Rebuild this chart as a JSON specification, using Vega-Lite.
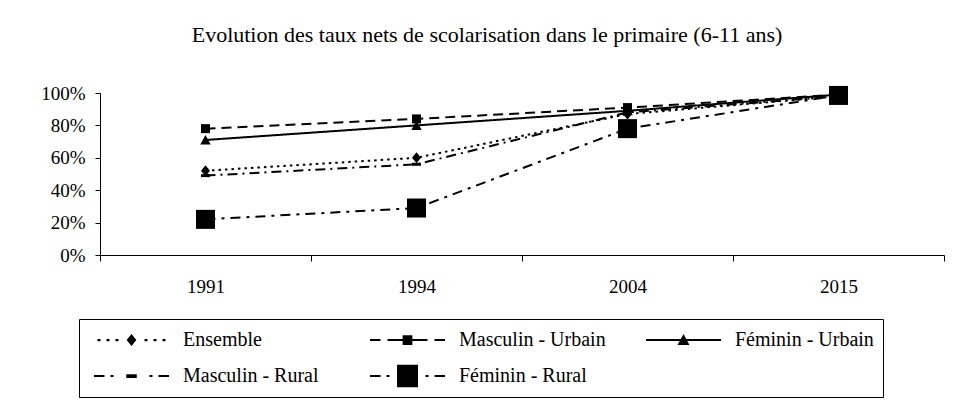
{
  "$schema": "https://vega.github.io/schema/vega-lite/v6.json",
  "width": 844,
  "height": 162,
  "autosize": {"type": "none"},
  "padding": {"left": 100, "top": 93, "right": 12, "bottom": 146},
  "background": "white",
  "config": {
    "font": "Liberation Serif",
    "view": {"stroke": null},
    "axis": {
      "labelFont": "Liberation Serif",
      "labelFontSize": 19,
      "labelColor": "black",
      "domainColor": "black",
      "tickColor": "black",
      "domainWidth": 1,
      "tickWidth": 1,
      "grid": false,
      "title": null
    }
  },
  "title": {
    "text": "Evolution des taux nets de scolarisation dans le primaire (6-11 ans)",
    "font": "Liberation Serif",
    "fontSize": 22,
    "fontWeight": "normal",
    "color": "black",
    "anchor": "middle",
    "dx": -35,
    "offset": 37
  },
  "data": {
    "values": [
      {"series": "Ensemble", "year": "1991", "value": 0.52},
      {"series": "Ensemble", "year": "1994", "value": 0.60},
      {"series": "Ensemble", "year": "2004", "value": 0.87},
      {"series": "Ensemble", "year": "2015", "value": 0.98},
      {"series": "Masculin - Urbain", "year": "1991", "value": 0.78},
      {"series": "Masculin - Urbain", "year": "1994", "value": 0.84},
      {"series": "Masculin - Urbain", "year": "2004", "value": 0.91},
      {"series": "Masculin - Urbain", "year": "2015", "value": 0.99},
      {"series": "Féminin - Urbain", "year": "1991", "value": 0.71},
      {"series": "Féminin - Urbain", "year": "1994", "value": 0.80},
      {"series": "Féminin - Urbain", "year": "2004", "value": 0.89},
      {"series": "Féminin - Urbain", "year": "2015", "value": 0.99},
      {"series": "Masculin - Rural", "year": "1991", "value": 0.49},
      {"series": "Masculin - Rural", "year": "1994", "value": 0.56},
      {"series": "Masculin - Rural", "year": "2004", "value": 0.88},
      {"series": "Masculin - Rural", "year": "2015", "value": 0.98},
      {"series": "Féminin - Rural", "year": "1991", "value": 0.22},
      {"series": "Féminin - Rural", "year": "1994", "value": 0.29},
      {"series": "Féminin - Rural", "year": "2004", "value": 0.78},
      {"series": "Féminin - Rural", "year": "2015", "value": 0.985}
    ]
  },
  "encoding": {
    "x": {
      "field": "year",
      "type": "ordinal",
      "scale": {"type": "band", "paddingInner": 0, "paddingOuter": 0},
      "axis": {"labelAngle": 0, "tickBand": "extent", "tickSize": 6, "labelPadding": 16}
    },
    "y": {
      "field": "value",
      "type": "quantitative",
      "scale": {"domain": [0, 1], "nice": false, "zero": true},
      "axis": {"values": [0, 0.2, 0.4, 0.6, 0.8, 1], "format": ".0%", "tickSize": 5, "labelPadding": 10}
    }
  },
  "layer": [
    {
      "mark": {"type": "line", "color": "black", "strokeWidth": 2},
      "encoding": {
        "strokeDash": {
          "field": "series",
          "type": "nominal",
          "scale": {
            "domain": ["Ensemble", "Masculin - Urbain", "Féminin - Urbain", "Masculin - Rural", "Féminin - Rural"],
            "range": [[2.5, 4], [10, 6], [1, 0], [10, 5, 2, 5], [10, 6, 3, 6]]
          },
          "legend": null
        }
      }
    },
    {
      "mark": {"type": "point", "filled": true, "color": "black", "opacity": 1, "size": 400},
      "encoding": {
        "shape": {
          "field": "series",
          "type": "nominal",
          "scale": {
            "domain": ["Ensemble", "Masculin - Urbain", "Féminin - Urbain", "Masculin - Rural", "Féminin - Rural"],
            "range": [
              "M0,-0.55L0.45,0L0,0.55L-0.45,0Z",
              "M-0.45,-0.45L0.45,-0.45L0.45,0.45L-0.45,0.45Z",
              "M0,-0.5L0.52,0.45L-0.52,0.45Z",
              "M-0.45,-0.15L0.45,-0.15L0.45,0.15L-0.45,0.15Z",
              "M-0.95,-0.95L0.95,-0.95L0.95,0.95L-0.95,0.95Z"
            ]
          },
          "legend": null
        }
      }
    },
    {
      "transform": [{"filter": "false"}],
      "mark": {"type": "point", "filled": true, "color": "black", "size": 5625, "opacity": 1},
      "encoding": {
        "shape": {
          "field": "series",
          "type": "nominal",
          "scale": {
            "domain": ["Ensemble", "Masculin - Urbain", "Féminin - Urbain", "Masculin - Rural", "Féminin - Rural"],
            "range": [
              "M-0.907,-0.03L-0.827,-0.03L-0.827,0.03L-0.907,0.03ZM-0.667,-0.03L-0.587,-0.03L-0.587,0.03L-0.667,0.03ZM-0.427,-0.03L-0.347,-0.03L-0.347,0.03L-0.427,0.03ZM0.347,-0.03L0.427,-0.03L0.427,0.03L0.347,0.03ZM0.587,-0.03L0.667,-0.03L0.667,0.03L0.587,0.03ZM0.827,-0.03L0.907,-0.03L0.907,0.03L0.827,0.03ZM0,-0.16L0.13,0L0,0.16L-0.13,0Z",
              "M-1,-0.027L-0.72,-0.027L-0.72,0.027L-1,0.027ZM-0.533,-0.027L0.533,-0.027L0.533,0.027L-0.533,0.027ZM0.72,-0.027L1,-0.027L1,0.027L0.72,0.027ZM-0.13,-0.13L0.13,-0.13L0.13,0.13L-0.13,0.13Z",
              "M-1,-0.027L1,-0.027L1,0.027L-1,0.027ZM0,-0.16L0.16,0.13L-0.16,0.13Z",
              "M-1,-0.027L-0.72,-0.027L-0.72,0.027L-1,0.027ZM-0.56,-0.027L-0.48,-0.027L-0.48,0.027L-0.56,0.027ZM-0.14,-0.05L0.14,-0.05L0.14,0.05L-0.14,0.05ZM0.48,-0.027L0.56,-0.027L0.56,0.027L0.48,0.027ZM0.72,-0.027L1,-0.027L1,0.027L0.72,0.027Z",
              "M-1,-0.027L-0.72,-0.027L-0.72,0.027L-1,0.027ZM-0.56,-0.027L-0.48,-0.027L-0.48,0.027L-0.56,0.027ZM-0.28,-0.3L0.28,-0.3L0.28,0.3L-0.28,0.3ZM0.48,-0.027L0.56,-0.027L0.56,0.027L0.48,0.027ZM0.72,-0.027L1,-0.027L1,0.027L0.72,0.027Z"
            ]
          },
          "legend": {
            "title": null,
            "orient": "none",
            "legendX": -21,
            "legendY": 226,
            "direction": "horizontal",
            "columns": 3,
            "gridAlign": "all",
            "symbolSize": 5625,
            "clipHeight": 24,
            "symbolOffset": 6,
            "labelOffset": 14,
            "labelFont": "Liberation Serif",
            "labelFontSize": 20,
            "labelColor": "black",
            "labelLimit": 300,
            "columnPadding": 34,
            "rowPadding": 12,
            "padding": 9,
            "strokeColor": "black",
            "fillColor": "white",
            "symbolStrokeWidth": 0,
            "symbolFillColor": "black",
            "symbolOpacity": 1
          }
        }
      }
    }
  ],
  "resolve": {"scale": {"shape": "independent"}}
}
